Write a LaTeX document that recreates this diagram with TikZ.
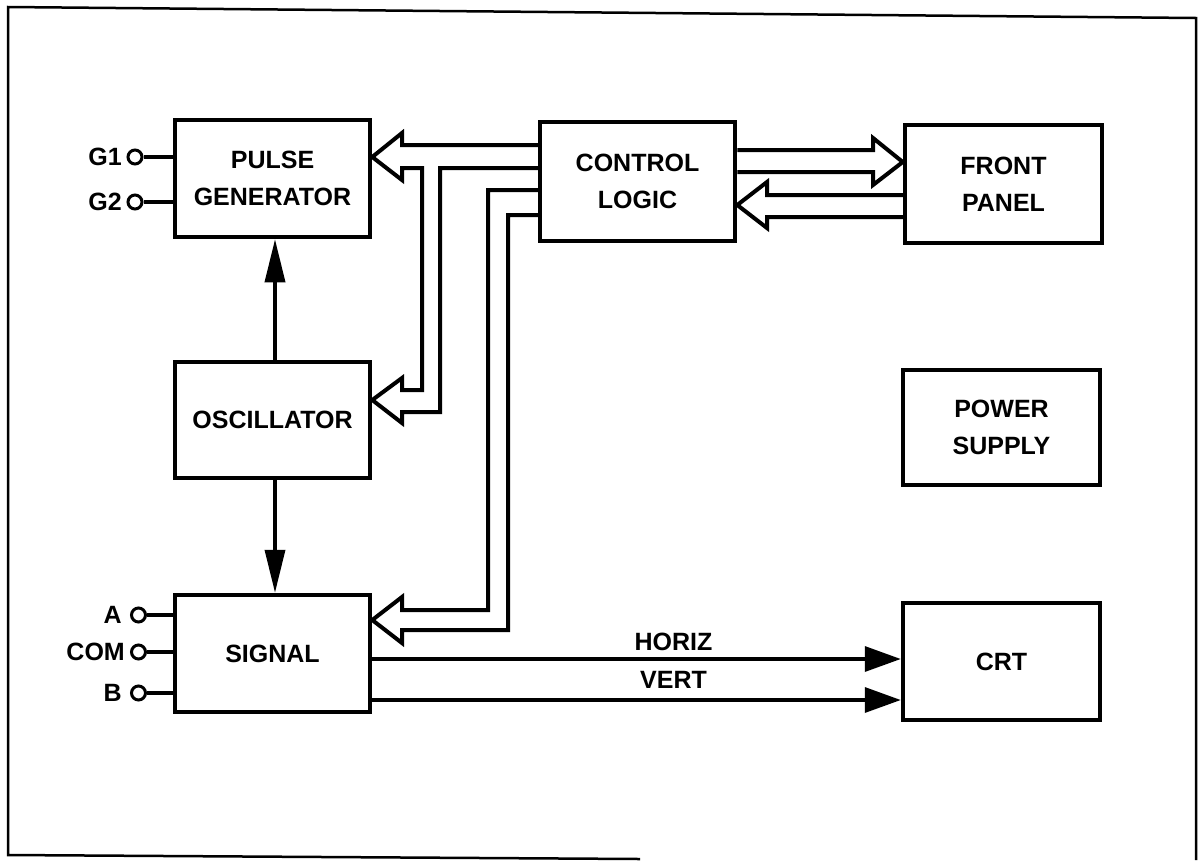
\documentclass[tikz,border=0pt]{standalone}
\usepackage{fontspec}
\setmainfont{Liberation Sans}
\usetikzlibrary{arrows.meta,calc}
\newcommand\dlbl{\fontsize{25}{37}\selectfont\bfseries}
\begin{document}
\begin{tikzpicture}[x=1pt,y=-1pt,
  box/.style={draw,line width=4.5pt,minimum width=195pt,minimum height=117pt,inner sep=0pt,align=center,font=\dlbl},
  bus/.style={line width=4pt,line join=miter},
  sigline/.style={line width=3.5pt},
  term/.style={circle,draw,line width=3pt,minimum size=14pt,inner sep=0pt},
  tlbl/.style={anchor=east,inner sep=0pt,font=\dlbl},
  wlbl/.style={inner sep=0pt,font=\dlbl},
  frame/.style={line width=2.5pt}]
\useasboundingbox (0,0) rectangle (1198,860);
% frame
\draw[frame] (640,859) -- (8,855) -- (8,7) -- (1196,18) -- (1196,860);

% boxes
\node[box] (pg) at (272.5,178.5) {PULSE\\GENERATOR};
\node[box,minimum height=119pt] (cl) at (637.5,181.5) {CONTROL\\LOGIC};
\node[box,minimum width=197pt,minimum height=118pt] (fp) at (1003.5,184) {FRONT\\PANEL};
\node[box,minimum height=116pt] (osc) at (272.5,420) {OSCILLATOR};
\node[box,minimum width=197pt,minimum height=115pt] (ps) at (1001.5,427.5) {POWER\\SUPPLY};
\node[box] (sig) at (272.5,653.5) {SIGNAL};
\node[box,minimum width=197pt] (crt) at (1001.5,661.5) {CRT};

% terminals
\node[term] (g1) at (135,157) {};
\node[term] (g2) at (135,202) {};
\node[tlbl] (g1l) at (122,157) {G1};
\node[tlbl] (g2l) at (122,202) {G2};
\draw[sigline] (g1.east) -- (g1.east -| pg.west);
\draw[sigline] (g2.east) -- (g2.east -| pg.west);

\node[term] (ta) at (138.5,615) {};
\node[term] (tc) at (138.5,652) {};
\node[term] (tb) at (138.5,693) {};
\node[tlbl] (tal) at (122,615) {A};
\node[tlbl] (tcl) at (125,652) {COM};
\node[tlbl] (tbl) at (122,693) {B};
\draw[sigline] (ta.east) -- (ta.east -| sig.west);
\draw[sigline] (tc.east) -- (tc.east -| sig.west);
\draw[sigline] (tb.east) -- (tb.east -| sig.west);

% oscillator connections
\draw[sigline,-{Triangle[length=43pt,width=20pt]}] (osc.north -| 275,0) -- (pg.south -| 275,0);
\draw[sigline,-{Triangle[length=43pt,width=20pt]}] (osc.south -| 275,0) -- (sig.north -| 275,0);

% horiz / vert
\draw[sigline,-{Triangle[length=36pt,width=25pt]}] (sig.east |- 0,659) -- (crt.west |- 0,659) node[pos=0.57,above=7pt,wlbl] (hl) {HORIZ};
\draw[sigline,-{Triangle[length=36pt,width=25pt]}] (sig.east |- 0,700) -- (crt.west |- 0,700) node[pos=0.57,above=10pt,wlbl] (vl) {VERT};

% bus: control logic -> pulse generator & oscillator
\draw[bus] (cl.west |- 0,145) -- (402,145) -- (402,133) -- (pg.east |- 0,157) -- (402,180) -- (402,168)
  -- (422,168) -- (422,390) -- (402,390) -- (402,378) -- (osc.east |- 0,400) -- (402,423) -- (402,412)
  -- (440,412) -- (440,168) -- (cl.west |- 0,168);

% bus: control logic -> signal
\draw[bus] (cl.west |- 0,190) -- (488,190) -- (488,610) -- (402,610) -- (402,597) -- (sig.east |- 0,620)
  -- (402,643) -- (402,630) -- (508,630) -- (508,215) -- (cl.west |- 0,215);

% bus: control logic -> front panel
\draw[bus] (cl.east |- 0,150) -- (873,150) -- (873,138) -- (fp.west |- 0,162) -- (873,185) -- (873,172) -- (cl.east |- 0,172);

% bus: front panel -> control logic
\draw[bus] (fp.west |- 0,195) -- (767,195) -- (767,182) -- (cl.east |- 0,205) -- (767,228) -- (767,217) -- (fp.west |- 0,217);
\end{tikzpicture}
\end{document}
